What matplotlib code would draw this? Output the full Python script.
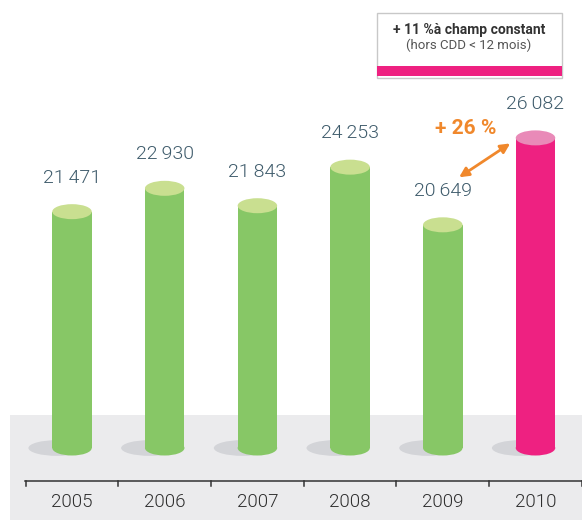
import numpy as np
import matplotlib
matplotlib.use("Agg")
import matplotlib.pyplot as plt
from matplotlib.patches import Ellipse, Rectangle, FancyArrowPatch

plt.rcParams['font.family'] = ['Roboto', 'DejaVu Sans']

years = ['2005', '2006', '2007', '2008', '2009', '2010']
values = [21471, 22930, 21843, 24253, 20649, 26082]
highlight = '2010'
growth_label = '+ 26 %'
box_title = '+ 11 %à champ constant'
box_sub = '(hors CDD < 12 mois)'

green, green_top = '#87c766', '#c9df90'
pink, pink_top = '#ee2181', '#e98ab8'
label_col = '#3e5b6b'
orange = '#f0882c'

W, H = 582, 520
fig = plt.figure(figsize=(W / 100, H / 100), dpi=100)
ax = fig.add_axes([0, 0, 1, 1])
ax.axis('off')

# truncated value axis (no axis shown): bars start at `floor`
floor = 6700
unit = 1 / 0.016          # values per pixel
step, x0, base = 92.7, 72, 448
ax.set_xlim(-x0 / step, (W - x0) / step)
ax.set_ylim(floor - (H - base) * unit, floor + base * unit)


def py(p):
    return floor + (base - p) * unit


def px(p):
    return (p - x0) / step


# grey floor
ax.add_patch(Rectangle((px(10), py(H)), px(W + 5) - px(10), py(415) - py(H),
                       color='#ebebed', lw=0, zorder=0))

x = np.arange(len(years))
vals = np.array(values)
bw = 39.5 / step
eh = 15 * unit
cols = [pink if y == highlight else green for y in years]
tops = [pink_top if y == highlight else green_top for y in years]

for i in x:
    ax.add_patch(Ellipse((i - 0.16, floor), 0.62, eh * 1.05, color='#d3d4d8', lw=0, zorder=1))
ax.bar(x, vals - floor, bottom=floor, width=bw, color=cols, zorder=2, lw=0)
for i, v in enumerate(values):
    ax.add_patch(Ellipse((i, floor), bw, eh, color=cols[i], lw=0, zorder=2))
    ax.add_patch(Ellipse((i, v), bw, eh, color=tops[i], lw=0, zorder=3))
    txt = f'{v:,}'.replace(',', '\u2009')
    ax.annotate(txt, (i, v), xytext=(0, 34), textcoords='offset pixels',
                ha='center', va='center', fontsize=14, color=label_col,
                fontweight=300)

# axis line with ticks
ax.plot([px(25), px(W + 5)], [py(481), py(481)], color='#333333', lw=1.1, zorder=4)
for i in range(len(years) + 1):
    ax.plot([i - 0.5, i - 0.5], [py(481), py(486)], color='#333333', lw=1.1, zorder=4)
for i, y in enumerate(years):
    ax.text(i, py(502), y, ha='center', va='center', fontsize=13.5,
            color='#2e2e2e', fontweight=300)

# growth annotation between the last two bars
a, b = len(values) - 2, len(values) - 1
start = (a + 14 / step, values[a] + 46 * unit)
end = (b - 23 / step, values[b] - 4 * unit)
ax.add_patch(FancyArrowPatch(start, end, arrowstyle='<|-|>', mutation_scale=14,
                             color=orange, lw=2, zorder=5))
ax.text(a + 23 / step, values[b] + 9 * unit, growth_label, ha='center', va='center',
        fontsize=15, color=orange, fontweight='bold')

# note box top right
def fx(p):
    return p / W


def fy(p):
    return 1 - p / H


fig.add_artist(Rectangle((fx(377), fy(78)), fx(562) - fx(377), fy(13) - fy(78),
                         transform=fig.transFigure, facecolor='white',
                         edgecolor='#c8c8c8', lw=1))
fig.add_artist(Rectangle((fx(377), fy(76)), fx(562) - fx(377), fy(66) - fy(76),
                         transform=fig.transFigure, color=pink, lw=0))
fig.text(fx(469), fy(30), box_title, ha='center', va='center', fontsize=10,
         fontweight='bold', color='#333333')
fig.text(fx(469), fy(45), box_sub, ha='center', va='center', fontsize=9.5,
         color='#555555')

fig.savefig('out.png', dpi=100)
